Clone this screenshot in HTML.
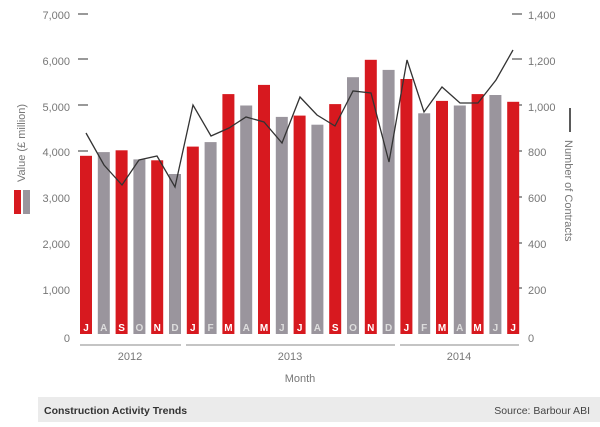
<!DOCTYPE html><html><head><style>body{margin:0;background:#fff}svg text{font-family:"Liberation Sans",sans-serif}</style></head><body>
<svg width="600" height="422" xmlns="http://www.w3.org/2000/svg">
<g font-size="11" fill="#777" text-anchor="end">
<text x="70" y="19">7,000</text><text x="70" y="65">6,000</text><text x="70" y="111">5,000</text><text x="70" y="156">4,000</text><text x="70" y="202">3,000</text><text x="70" y="248">2,000</text><text x="70" y="294">1,000</text><text x="70" y="342">0</text>
</g>
<g stroke="#555" stroke-width="1.2"><line x1="78" y1="14" x2="88" y2="14"/><line x1="78" y1="59" x2="88" y2="59"/><line x1="78" y1="105" x2="88" y2="105"/><line x1="78" y1="151" x2="88" y2="151"/>
<line x1="512" y1="14" x2="522" y2="14"/><line x1="512" y1="59" x2="522" y2="59"/><line x1="512" y1="105" x2="522" y2="105"/><line x1="512" y1="151" x2="522" y2="151"/><line x1="512" y1="197" x2="522" y2="197"/><line x1="512" y1="243" x2="522" y2="243"/><line x1="512" y1="288" x2="522" y2="288"/></g>
<g font-size="11" fill="#777"><text x="528" y="19">1,400</text><text x="528" y="65">1,200</text><text x="528" y="111">1,000</text><text x="528" y="156">800</text><text x="528" y="202">600</text><text x="528" y="248">400</text><text x="528" y="294">200</text><text x="528" y="342">0</text></g>
<g>
<rect x="80" y="155.8" width="12" height="178.2" fill="#d7191f"/>
<rect x="97.8" y="152.1" width="12" height="181.9" fill="#9a959d"/>
<rect x="115.6" y="150.3" width="12" height="183.7" fill="#d7191f"/>
<rect x="133.4" y="159.4" width="12" height="174.6" fill="#9a959d"/>
<rect x="151.2" y="160.3" width="12" height="173.7" fill="#d7191f"/>
<rect x="169" y="174" width="12" height="160" fill="#9a959d"/>
<rect x="186.8" y="146.6" width="12" height="187.4" fill="#d7191f"/>
<rect x="204.6" y="142.1" width="12" height="191.9" fill="#9a959d"/>
<rect x="222.4" y="94.1" width="12" height="239.9" fill="#d7191f"/>
<rect x="240.2" y="105.5" width="12" height="228.5" fill="#9a959d"/>
<rect x="258" y="84.9" width="12" height="249.1" fill="#d7191f"/>
<rect x="275.8" y="116.9" width="12" height="217.1" fill="#9a959d"/>
<rect x="293.6" y="115.6" width="12" height="218.4" fill="#d7191f"/>
<rect x="311.4" y="124.7" width="12" height="209.3" fill="#9a959d"/>
<rect x="329.2" y="104.1" width="12" height="229.9" fill="#d7191f"/>
<rect x="347" y="77.2" width="12" height="256.8" fill="#9a959d"/>
<rect x="364.8" y="59.8" width="12" height="274.2" fill="#d7191f"/>
<rect x="382.6" y="69.9" width="12" height="264.1" fill="#9a959d"/>
<rect x="400.4" y="79" width="12" height="255" fill="#d7191f"/>
<rect x="418.2" y="113.3" width="12" height="220.7" fill="#9a959d"/>
<rect x="436" y="100.9" width="12" height="233.1" fill="#d7191f"/>
<rect x="453.8" y="105.5" width="12" height="228.5" fill="#9a959d"/>
<rect x="471.6" y="94.1" width="12" height="239.9" fill="#d7191f"/>
<rect x="489.4" y="95" width="12" height="239" fill="#9a959d"/>
<rect x="507.2" y="101.8" width="12" height="232.2" fill="#d7191f"/>
</g>
<g font-size="10" font-weight="bold" text-anchor="middle">
<text x="86" y="331" fill="#fff">J</text><text x="103.8" y="331" fill="#ddd">A</text><text x="121.6" y="331" fill="#fff">S</text><text x="139.4" y="331" fill="#ddd">O</text><text x="157.2" y="331" fill="#fff">N</text><text x="175" y="331" fill="#ddd">D</text><text x="192.8" y="331" fill="#fff">J</text><text x="210.6" y="331" fill="#ddd">F</text><text x="228.4" y="331" fill="#fff">M</text><text x="246.2" y="331" fill="#ddd">A</text><text x="264" y="331" fill="#fff">M</text><text x="281.8" y="331" fill="#ddd">J</text><text x="299.6" y="331" fill="#fff">J</text><text x="317.4" y="331" fill="#ddd">A</text><text x="335.2" y="331" fill="#fff">S</text><text x="353" y="331" fill="#ddd">O</text><text x="370.8" y="331" fill="#fff">N</text><text x="388.6" y="331" fill="#ddd">D</text><text x="406.4" y="331" fill="#fff">J</text><text x="424.2" y="331" fill="#ddd">F</text><text x="442" y="331" fill="#fff">M</text><text x="459.8" y="331" fill="#ddd">A</text><text x="477.6" y="331" fill="#fff">M</text><text x="495.4" y="331" fill="#ddd">J</text><text x="513.2" y="331" fill="#fff">J</text>
</g>
<polyline fill="none" stroke="#333" stroke-width="1.3" points="86,133 104,165 122,185 139,160 157,156 175,187 193,105 211,136 229,128 246,117 264,122 282,143 300,97 317,115 335,126 353,91 371,93 389,162 407,60 424,112 442,87 460,103 478,103 496,80 513,50"/>
<g stroke="#888" stroke-width="1"><line x1="80" y1="345" x2="181" y2="345"/><line x1="186" y1="345" x2="395" y2="345"/><line x1="400" y1="345" x2="519" y2="345"/></g>
<g font-size="11" fill="#777" text-anchor="middle"><text x="130" y="360">2012</text><text x="290" y="360">2013</text><text x="459" y="360">2014</text><text x="300" y="382">Month</text></g>
<rect x="14" y="190" width="7" height="24" fill="#d7191f"/><rect x="23" y="190" width="7" height="24" fill="#9a959d"/>
<text transform="translate(25,182) rotate(-90)" font-size="11" fill="#777">Value (£ million)</text>
<line x1="570" y1="108" x2="570" y2="132" stroke="#222" stroke-width="1.5"/>
<text transform="translate(565,140) rotate(90)" font-size="11" fill="#777">Number of Contracts</text>
<rect x="38" y="397" width="562" height="25" fill="#ebebeb"/>
<text x="44" y="414" font-size="10.5" font-weight="bold" fill="#333">Construction Activity Trends</text>
<text x="590" y="414" font-size="10.5" fill="#444" text-anchor="end">Source: Barbour ABI</text>
</svg></body></html>
